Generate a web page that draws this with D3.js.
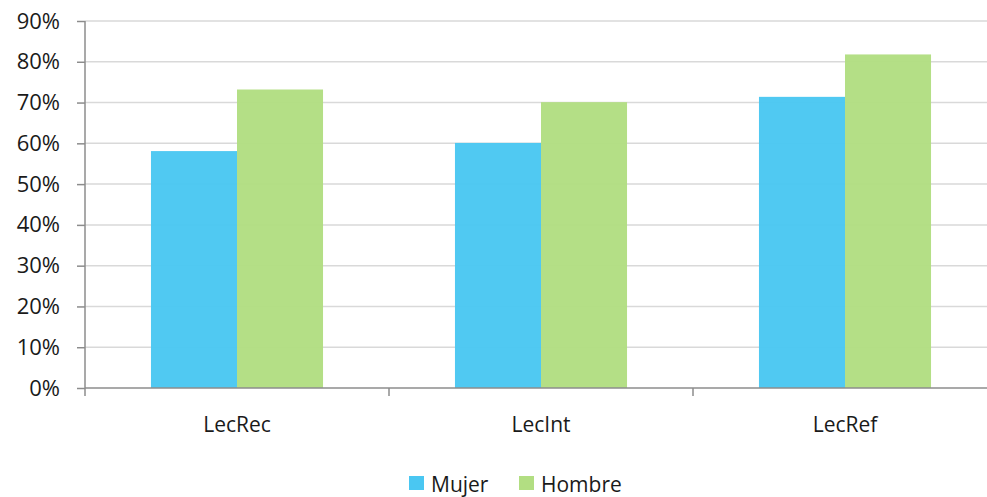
<!DOCTYPE html>
<html>
<head>
<meta charset="utf-8">
<script src="https://cdn.jsdelivr.net/npm/d3@7"></script>
<style>
  html, body { margin: 0; padding: 0; background: #fff; }
  svg text { font-family: "Open Sans", sans-serif; fill: #1a1a1a; }
</style>
</head>
<body>
<svg id="chart" width="987" height="497"></svg>
<script>
// Reading performance by sex
const categories = ["LecRec", "LecInt", "LecRef"];
const seriesNames = ["Mujer", "Hombre"];
const mujer = [0.581, 0.601, 0.714];
const hombre = [0.732, 0.701, 0.818];
const yTicks = [0, 0.1, 0.2, 0.3, 0.4, 0.5, 0.6, 0.7, 0.8, 0.9];
const colors = ["#4ac7f2", "#b2de82"];

const svg = d3.select("#chart");
const plotLeft = 85, plotRight = 997, plotTop = 21, plotBottom = 388;

const x = d3.scaleBand().domain(categories).range([plotLeft, plotRight]).paddingInner(0.434).paddingOuter(0.217);
const xs = d3.scaleBand().domain(seriesNames).range([0, x.bandwidth()]);
const y = d3.scaleLinear().domain([0, 0.9]).range([plotBottom, plotTop]);

// horizontal gridlines
svg.append("g").selectAll("line").data(yTicks.slice(1)).join("line")
  .attr("x1", plotLeft).attr("x2", 987)
  .attr("y1", d => y(d)).attr("y2", d => y(d))
  .attr("stroke", "#d9d9d9").attr("stroke-width", 1.5);

// bars
const values = [mujer, hombre];
const groups = svg.append("g").selectAll("g").data(categories).join("g")
  .attr("transform", d => `translate(${x(d)},0)`);
groups.selectAll("rect").data((c, i) => seriesNames.map((s, k) => ({ s, k, v: values[k][i] }))).join("rect")
  .attr("x", d => xs(d.s))
  .attr("width", xs.bandwidth())
  .attr("y", d => y(d.v))
  .attr("height", d => plotBottom - y(d.v))
  .attr("fill", d => colors[d.k])
  .attr("fill-opacity", 0.97);

// y axis
const yAxis = d3.axisLeft(y).tickValues(yTicks).tickFormat(d3.format(".0%")).tickSize(8).tickPadding(17);
const gy = svg.append("g").attr("transform", `translate(${plotLeft},0)`).call(yAxis);
gy.select(".domain").remove();
gy.selectAll(".tick line").attr("stroke", "#8c8c8c").attr("stroke-width", 1.5);
gy.selectAll(".tick text").style("font-size", "22px").attr("fill", "#1a1a1a");
svg.append("line").attr("x1", plotLeft).attr("x2", plotLeft).attr("y1", plotTop).attr("y2", plotBottom + 8)
  .attr("stroke", "#8c8c8c").attr("stroke-width", 1.5);

// x axis
svg.append("line").attr("x1", plotLeft).attr("x2", 987).attr("y1", plotBottom).attr("y2", plotBottom)
  .attr("stroke", "#8c8c8c").attr("stroke-width", 1.5);
const boundaries = categories.slice(1).map(c => x(c) - x.step() * x.paddingInner() / 2);
svg.append("g").selectAll("line").data(boundaries).join("line")
  .attr("x1", d => d).attr("x2", d => d).attr("y1", plotBottom).attr("y2", plotBottom + 8)
  .attr("stroke", "#8c8c8c").attr("stroke-width", 1.5);
svg.append("g").selectAll("text").data(categories).join("text")
  .attr("x", d => x(d) + x.bandwidth() / 2).attr("y", 432)
  .attr("text-anchor", "middle").style("font-size", "21px").text(d => d);

// legend
const legendX = [409, 519];
const lg = svg.append("g").selectAll("g").data(seriesNames).join("g")
  .attr("transform", (d, i) => `translate(${legendX[i]},0)`);
lg.append("rect").attr("x", 0).attr("y", 476).attr("width", 15).attr("height", 14)
  .attr("fill", (d, i) => colors[i]);
lg.append("text").attr("x", 22).attr("y", 492).style("font-size", "21px").text(d => d);
</script>
</body>
</html>
